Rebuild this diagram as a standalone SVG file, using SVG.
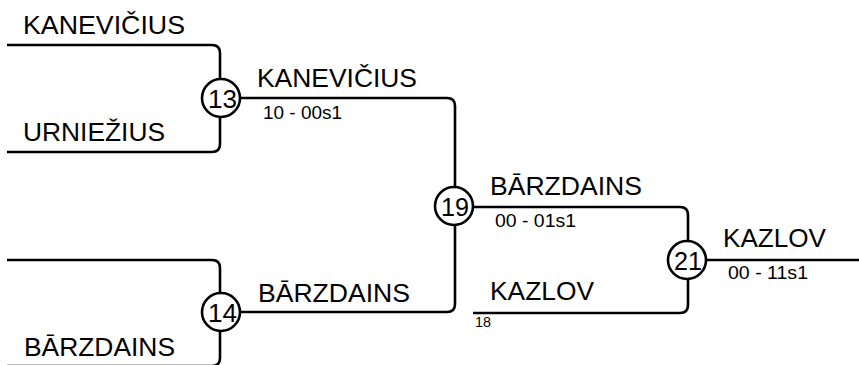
<svg xmlns="http://www.w3.org/2000/svg" width="859" height="365" viewBox="0 0 859 365">
<style>
.ln{fill:none;stroke:#000;stroke-width:2.6}
.c{fill:#fff;stroke:#000;stroke-width:2.6}
.t{font-family:"Liberation Sans",Arial,sans-serif;fill:#000}
.n{font-size:25px}
.s{font-size:17.5px}
.k{font-size:25px}
.x{font-size:14px}
</style>
<rect width="859" height="365" fill="#fff"/>
<g id="connectors">
<path class="ln" d="M7,45 H212 Q220,45 220,53 V144 Q220,152 212,152 H7"/>
<path class="ln" d="M7,260 H212 Q220,260 220,268 V358 Q220,366 212,366 H7"/>
<path class="ln" d="M220,98 H447 Q455,98 455,106 V304 Q455,312 447,312 H220"/>
<path class="ln" d="M455,207 H680 Q688,207 688,215 V305 Q688,313 680,313 H473"/>
<path class="ln" d="M688,260 H859"/>
</g>
<g id="labels">
<text class="t n" x="23" y="34" textLength="162" lengthAdjust="spacingAndGlyphs">KANEVIČIUS</text>
<text class="t n" x="23" y="141" textLength="142" lengthAdjust="spacingAndGlyphs">URNIEŽIUS</text>
<text class="t n" x="24" y="356" textLength="151" lengthAdjust="spacingAndGlyphs">BĀRZDAINS</text>
<text class="t n" x="257" y="87" textLength="160" lengthAdjust="spacingAndGlyphs">KANEVIČIUS</text>
<text class="t s" x="263" y="119" textLength="79" lengthAdjust="spacingAndGlyphs">10 - 00s1</text>
<text class="t n" x="258" y="302" textLength="152" lengthAdjust="spacingAndGlyphs">BĀRZDAINS</text>
<text class="t n" x="490" y="195" textLength="152" lengthAdjust="spacingAndGlyphs">BĀRZDAINS</text>
<text class="t s" x="495" y="227" textLength="81" lengthAdjust="spacingAndGlyphs">00 - 01s1</text>
<text class="t n" x="490" y="300" textLength="104" lengthAdjust="spacingAndGlyphs">KAZLOV</text>
<text class="t x" x="475" y="327" textLength="16" lengthAdjust="spacingAndGlyphs">18</text>
<text class="t n" x="723" y="247" textLength="103" lengthAdjust="spacingAndGlyphs">KAZLOV</text>
<text class="t s" x="728" y="279" textLength="80" lengthAdjust="spacingAndGlyphs">00 - 11s1</text>
</g>
<g id="node13"><circle class="c" cx="221" cy="98" r="19"/><text class="t k" x="208" y="108" textLength="29" lengthAdjust="spacingAndGlyphs">13</text></g>
<g id="node14"><circle class="c" cx="221" cy="312" r="19"/><text class="t k" x="208" y="322" textLength="29" lengthAdjust="spacingAndGlyphs">14</text></g>
<g id="node19"><circle class="c" cx="454" cy="206" r="19"/><text class="t k" x="441" y="216" textLength="28" lengthAdjust="spacingAndGlyphs">19</text></g>
<g id="node21"><circle class="c" cx="687" cy="260" r="19"/><text class="t k" x="674" y="270" textLength="28" lengthAdjust="spacingAndGlyphs">21</text></g>
</svg>
